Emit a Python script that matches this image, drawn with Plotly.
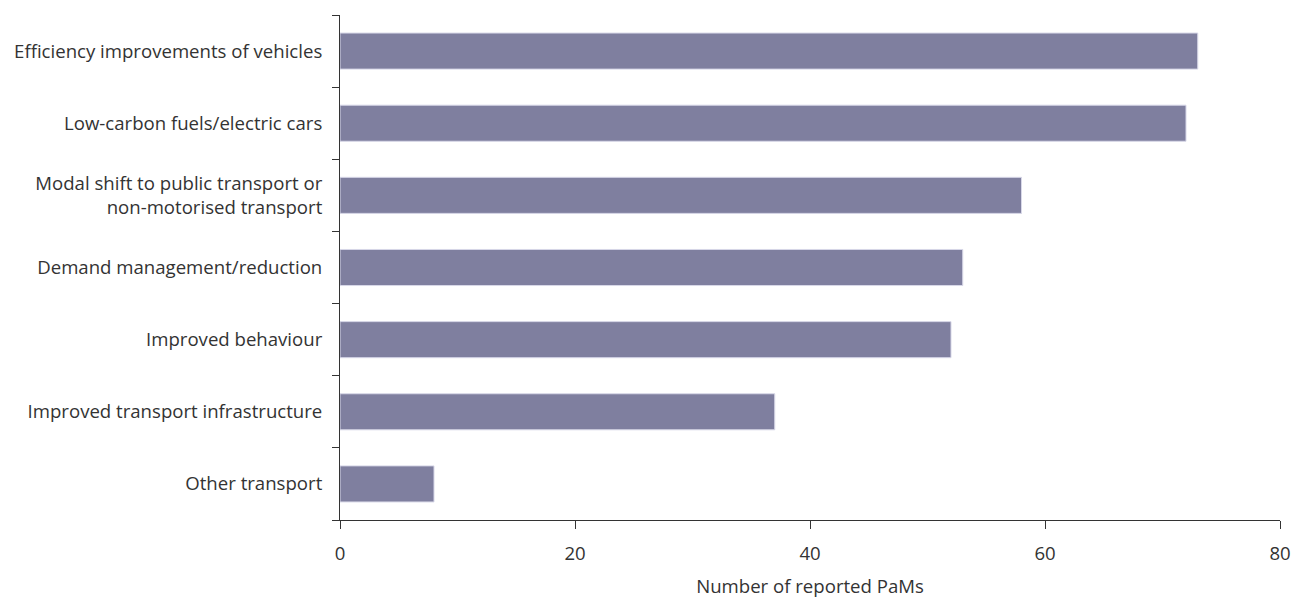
import plotly.graph_objects as go

categories = [
    "Efficiency improvements of vehicles",
    "Low-carbon fuels/electric cars",
    "Modal shift to public transport or<br>non-motorised transport",
    "Demand management/reduction",
    "Improved behaviour",
    "Improved transport infrastructure",
    "Other transport",
]
values = [73, 72, 58, 53, 52, 37, 8]
x_ticks = [0, 20, 40, 60, 80]

fig = go.Figure(
    go.Bar(
        x=values,
        y=categories,
        orientation="h",
        width=0.5,
        marker=dict(color="#7f7f9f", line=dict(color="#d8d8e8", width=1)),
    )
)

fig.update_layout(
    width=1292,
    height=598,
    margin=dict(l=340, r=12, t=15, b=78, pad=0),
    plot_bgcolor="white",
    paper_bgcolor="white",
    font=dict(family="Open Sans", size=18.6, color="#333333"),
    showlegend=False,
    bargap=0.5,
)

fig.update_xaxes(
    range=[0, 80],
    tickvals=x_ticks,
    automargin=False,
    showgrid=False,
    zeroline=False,
    showline=True,
    linecolor="#333333",
    linewidth=1,
    ticks="outside",
    ticklen=8,
    tickcolor="#333333",
    ticklabelstandoff=9,
    title=dict(text="Number of reported PaMs", standoff=19, font=dict(size=18.6)),
)

fig.update_yaxes(
    categoryorder="array",
    categoryarray=categories[::-1],
    autorange=False,
    range=[-0.5, 6.5],
    automargin=False,
    showgrid=False,
    zeroline=False,
    showline=True,
    linecolor="#333333",
    linewidth=1,
    ticks="outside",
    ticklen=7,
    tickcolor="#333333",
    tickson="boundaries",
    ticklabelstandoff=13,
)

fig.write_html(
    "out.html",
    config={"displayModeBar": False},
    post_script="document.body.style.margin='0';document.body.style.overflow='hidden';",
)
